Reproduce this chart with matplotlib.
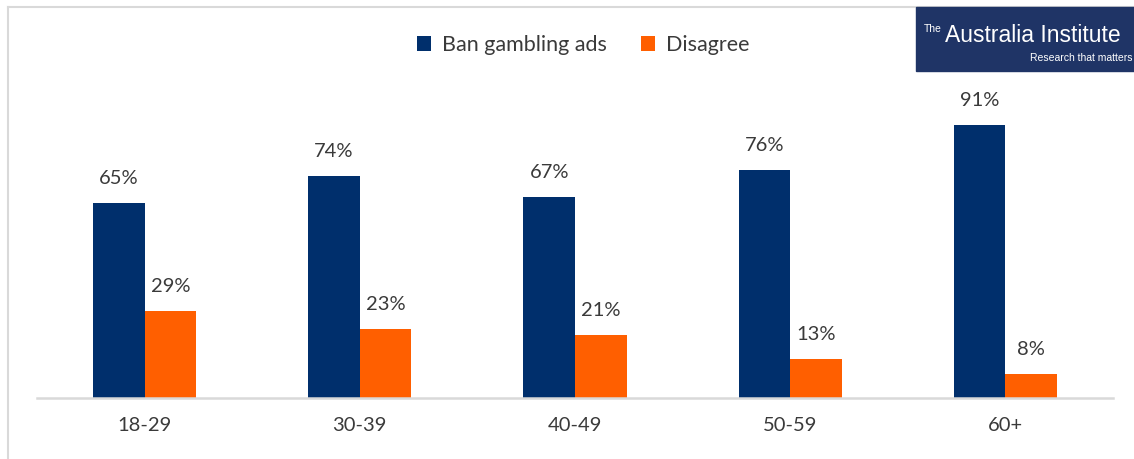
import matplotlib
matplotlib.use("Agg")
import matplotlib.pyplot as plt
from matplotlib.patches import Rectangle
from matplotlib.lines import Line2D
import numpy as np

plt.rcParams['font.family'] = ['Lato', 'DejaVu Sans']

age_groups = ["18-29", "30-39", "40-49", "50-59", "60+"]
ban_ads = [65, 74, 67, 76, 91]
disagree = [29, 23, 21, 13, 8]
series_names = ["Ban gambling ads", "Disagree"]

NAVY = "#002F6C"
ORANGE = "#FF5F00"
TEXT = "#3A3A3A"
GRID = "#D9D9D9"

W, H = 1134, 459
fig = plt.figure(figsize=(W / 100, H / 100), dpi=100)

# chart frame (left and top edges)
fig.add_artist(Line2D([8 / W, 8 / W], [0, 1 - 7 / H], color=GRID, lw=1.5))
fig.add_artist(Line2D([8 / W, 1], [1 - 7 / H, 1 - 7 / H], color=GRID, lw=1.5))

ax = fig.add_axes([37 / W, (H - 398) / H, (1113 - 37) / W, 300 / H])
x = np.arange(len(age_groups))
bw = 0.24
b1 = ax.bar(x - bw / 2, ban_ads, bw, color=NAVY, label=series_names[0])
b2 = ax.bar(x + bw / 2, disagree, bw, color=ORANGE, label=series_names[1])

for bars, vals in ((b1, ban_ads), (b2, disagree)):
    for r, v in zip(bars, vals):
        ax.annotate(f"{v}%", (r.get_x() + r.get_width() / 2, v),
                    xytext=(0, 17.5), textcoords="offset points",
                    ha="center", va="center", fontsize=14.5, color=TEXT)

ax.set_xlim(-0.5, len(age_groups) - 0.5)
ax.set_ylim(0, 100)
ax.set_xticks(x)
ax.set_xticklabels(age_groups, fontsize=14.5, color=TEXT)
ax.tick_params(axis="x", length=0, pad=14)
ax.set_yticks([])
for s in ("top", "right", "left"):
    ax.spines[s].set_visible(False)
ax.spines["bottom"].set_color(GRID)
ax.spines["bottom"].set_linewidth(1.8)

fig.legend(handles=[b1, b2], labels=series_names, loc="center",
           bbox_to_anchor=(583 / W, 1 - 45 / H), ncol=2, frameon=False,
           fontsize=15.5, labelcolor=TEXT, handlelength=0.65, handleheight=0.65,
           handletextpad=0.5, columnspacing=1.6)

# logo block
logo_font = ["Liberation Sans Narrow", "Liberation Sans"]
fig.add_artist(Rectangle((916 / W, 1 - 71 / H), (W - 916) / W, 64 / H,
                         transform=fig.transFigure, color="#1F3466", zorder=5))
fig.text(942 / W, 1 - 29 / H, "The", color="white", fontsize=7.5,
         family=logo_font, zorder=6, va="center", ha="right")
fig.text(945 / W, 1 - 36 / H, "Australia Institute", color="white", fontsize=16.5,
         family=logo_font, zorder=6, va="center", ha="left")
fig.text(1132 / W, 1 - 58 / H, "Research that matters", color="white", fontsize=7.5,
         family=logo_font, zorder=6, va="center", ha="right")

fig.savefig("out.png", dpi=100)
